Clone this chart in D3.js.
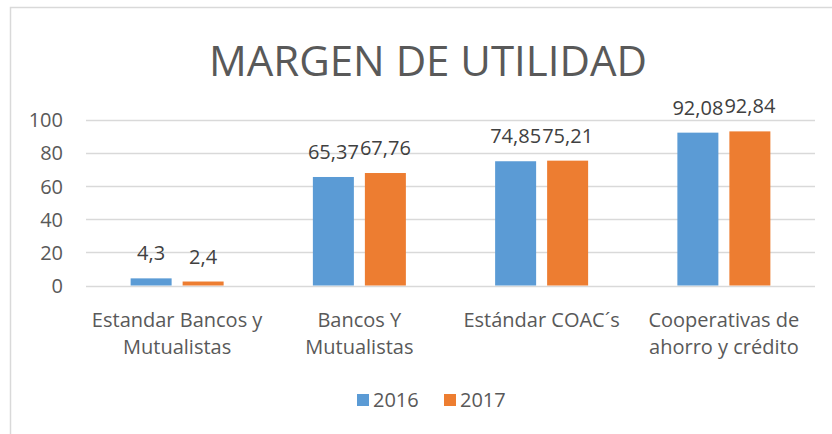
<!DOCTYPE html>
<html><head><meta charset="utf-8">
<script src="https://cdn.jsdelivr.net/npm/d3@7"></script>
<style>body{margin:0;background:#fff;}svg{display:block;font-family:"Open Sans",sans-serif;}</style>
</head><body><svg id="c" width="832" height="434"></svg>
<script>
const categories = [["Estandar Bancos y","Mutualistas"],["Bancos Y","Mutualistas"],["Estándar COAC´s"],["Cooperativas de","ahorro y crédito"]];
const seriesNames = ["2016","2017"];
const values2016 = [4.3, 65.37, 74.85, 92.08];
const values2017 = [2.4, 67.76, 75.21, 92.84];
const labels2016 = ["4,3","65,37","74,85","92,08"];
const labels2017 = ["2,4","67,76","75,21","92,84"];
const yTicks = [0,20,40,60,80,100];
const colors = ["#5B9BD5","#ED7D31"];
const title = "MARGEN DE UTILIDAD";

const svg = d3.select("#c");
const txt = "#595959";
// chart border
svg.append("rect").attr("x",10.5).attr("y",7.5).attr("width",900).attr("height",600)
  .attr("fill","none").attr("stroke","#D9D9D9").attr("stroke-width",1.5);

const pLeft=86, pRight=815, pTop=119.5, pBottom=285.5;
const x0 = d3.scaleBand().domain(d3.range(categories.length)).range([pLeft,pRight]).paddingInner(0).paddingOuter(0);
const y = d3.scaleLinear().domain([0,100]).range([pBottom,pTop]);

svg.append("text").attr("x",428).attr("y",76).attr("text-anchor","middle")
  .attr("font-size",42).attr("font-weight",400).attr("fill",txt).text(title);

// grid
svg.append("g").selectAll("line").data(yTicks).join("line")
  .attr("x1",pLeft).attr("x2",pRight).attr("y1",d=>Math.round(y(d))+0.5).attr("y2",d=>Math.round(y(d))+0.5)
  .attr("stroke","#D9D9D9").attr("stroke-width",1.3);
const yAxis = d3.axisLeft(y).tickValues(yTicks).tickSize(0).tickPadding(0);
const ga = svg.append("g").attr("transform",`translate(63,0)`).call(yAxis);
ga.select(".domain").remove();
ga.selectAll("text").attr("font-size",20).attr("fill",txt).attr("font-family","Open Sans").attr("dy","0.36em");

const bw = 41, gap = 11;
const series = [values2016, values2017];
const lbls = [labels2016, labels2017];
series.forEach((vals,si)=>{
  const g = svg.append("g");
  g.selectAll("rect").data(vals).join("rect")
    .attr("x",(d,i)=>x0(i)+x0.bandwidth()/2 + (si===0 ? -(bw+gap/2) : gap/2))
    .attr("width",bw)
    .attr("y",d=>y(d)).attr("height",d=>y(0)-y(d))
    .attr("fill",colors[si]);
  g.selectAll("text").data(vals).join("text")
    .attr("x",(d,i)=>x0(i)+x0.bandwidth()/2 + (si===0 ? -(bw/2+gap/2) : gap/2+bw/2))
    .attr("y",d=>y(d)-18)
    .attr("text-anchor","middle").attr("font-size",20).attr("fill","#404040")
    .text((d,i)=>lbls[si][i]);
});

// category labels
const cg = svg.append("g");
categories.forEach((lines,i)=>{
  const t = cg.append("text").attr("text-anchor","middle").attr("font-size",20).attr("fill",txt);
  lines.forEach((l,j)=>{
    t.append("tspan").attr("x",x0(i)+x0.bandwidth()/2).attr("y",327+j*27).text(l);
  });
});

// legend
const leg = svg.append("g");
const legX = [357, 444];
seriesNames.forEach((n,i)=>{
  leg.append("rect").attr("x",legX[i]).attr("y",394).attr("width",12).attr("height",12).attr("fill",colors[i]);
  leg.append("text").attr("x",legX[i]+16).attr("y",407).attr("font-size",20).attr("fill",txt).text(n);
});
</script></body></html>
